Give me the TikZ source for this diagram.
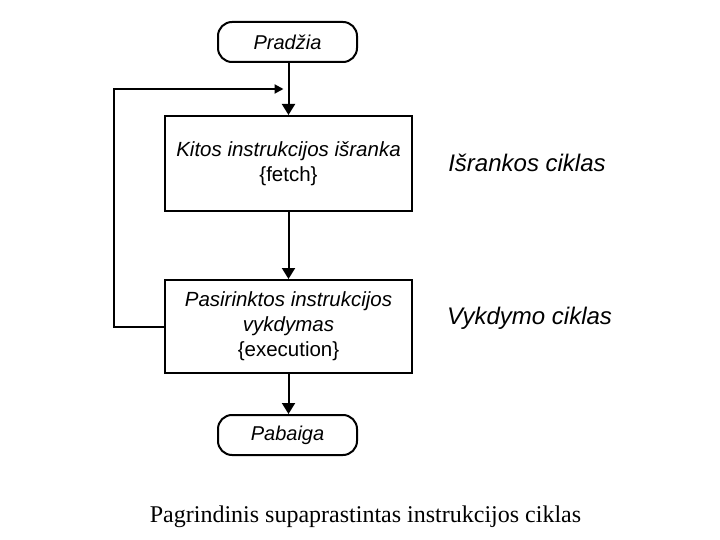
\documentclass[tikz,border=0pt]{standalone}
\usepackage{fontspec}
\setmainfont{Liberation Sans}
\newfontfamily\capfont{Liberation Serif}
\usetikzlibrary{arrows.meta}
\begin{document}
\begin{tikzpicture}[x=1pt,y=-1pt,
  line width=2pt,
  every node/.style={font=\fontsize{20.5}{25}\selectfont},
  term/.style={draw, rounded corners=14pt, minimum width=139pt, minimum height=40pt, inner sep=0pt, font=\fontsize{20}{25}\selectfont\itshape},
  proc/.style={draw, minimum width=247pt, inner sep=0pt, align=center},
  side/.style={font=\fontsize{24}{28}\selectfont\itshape, inner sep=0pt},
  arr/.style={-{Triangle[length=11pt,width=13pt]}},
  larr/.style={-{Triangle[length=9pt,width=9pt]}}
]
\useasboundingbox (0,0) rectangle (720,540);
\node[term] (start) at (287.5,42) {Pradžia};
\node[proc, minimum height=95pt] (fetch) at (288.5,163.5) {\itshape Kitos instrukcijos išranka\\ \{fetch\}};
\node[proc, minimum height=93pt] (exec) at (288.5,326.5) {\itshape Pasirinktos instrukcijos\\ \itshape vykdymas\\ \{execution\}};
\node[term] (end) at (287.5,435) {Pabaiga};
\node[side] (l1) at (527,163) {Išrankos ciklas};
\node[side] (l2) at (529.5,318) {Vykdymo ciklas};
\node[font=\fontsize{24}{28}\capfont, inner sep=0pt] (cap) at (365.5,517) {Pagrindinis supaprastintas instrukcijos ciklas};
\coordinate (j) at (288.5,89);
\coordinate (lc) at (114,89);
\draw[arr] (start.south -| j) -- (fetch.north -| j);
\draw[arr] (fetch.south -| j) -- (exec.north -| j);
\draw[arr] (exec.south -| j) -- (end.north -| j);
\draw[larr] (exec.west) -| (lc) -- ([xshift=-5pt]j);
\end{tikzpicture}
\end{document}
